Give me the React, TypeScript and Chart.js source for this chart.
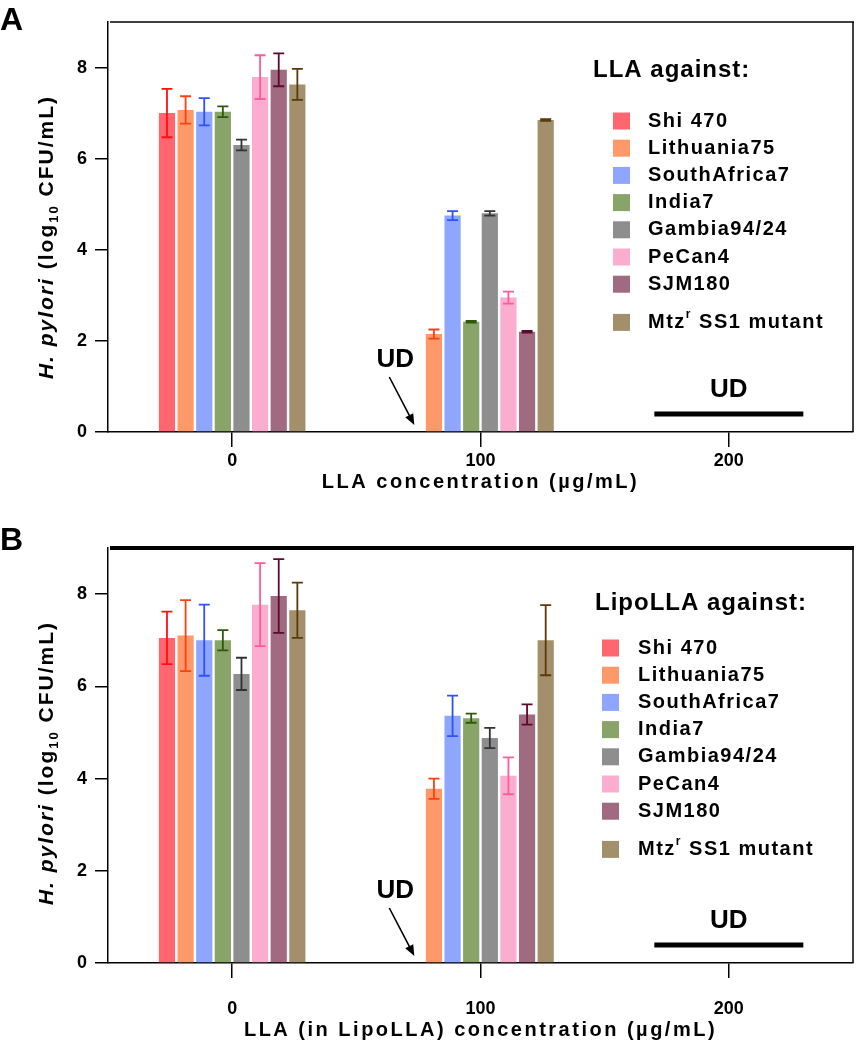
import React, { useEffect, useRef } from 'react';
import { Chart, registerables } from 'chart.js';

Chart.register(...registerables);

const FONT = "'Liberation Sans', Arial, Helvetica, sans-serif";

const categories = ['0', '100', '200'];
const strains = ['Shi 470', 'Lithuania75', 'SouthAfrica7', 'India7', 'Gambia94/24', 'PeCan4', 'SJM180', 'Mtzʳ SS1 mutant'];
const barColors = ['#ff6670', '#ff996a', '#8fa6ff', '#88a468', '#8e8e8e', '#fbadcf', '#a06a80', '#a38f6b'];
const errColors = ['#ff1010', '#ff4010', '#3050ff', '#2d5a0a', '#333333', '#ff5c9a', '#5c0a2e', '#5a3a0a'];
const yTickValues = [0, 2, 4, 6, 8];

// Panel A: LLA (log10 CFU/mL), null = UD (undetectable)
const llaShi470 = [7.0, null, null];
const llaLithuania75 = [7.07, 2.15, null];
const llaSouthAfrica7 = [7.03, 4.75, null];
const llaIndia7 = [7.03, 2.42, null];
const llaGambia = [6.3, 4.8, null];
const llaPeCan4 = [7.79, 2.95, null];
const llaSJM180 = [7.95, 2.2, null];
const llaMtz = [7.63, 6.85, null];

const llaShi470Err = [0.53, 0, 0];
const llaLithuania75Err = [0.3, 0.1, 0];
const llaSouthAfrica7Err = [0.3, 0.1, 0];
const llaIndia7Err = [0.12, 0.02, 0];
const llaGambiaErr = [0.12, 0.05, 0];
const llaPeCan4Err = [0.48, 0.13, 0];
const llaSJM180Err = [0.36, 0.02, 0];
const llaMtzErr = [0.34, 0.02, 0];

// Panel B: LipoLLA
const lipoShi470 = [7.05, null, null];
const lipoLithuania75 = [7.1, 3.78, null];
const lipoSouthAfrica7 = [7.0, 5.36, null];
const lipoIndia7 = [7.0, 5.31, null];
const lipoGambia = [6.27, 4.88, null];
const lipoPeCan4 = [7.77, 4.06, null];
const lipoSJM180 = [7.96, 5.39, null];
const lipoMtz = [7.65, 7.0, null];

const lipoShi470Err = [0.57, 0, 0];
const lipoLithuania75Err = [0.77, 0.22, 0];
const lipoSouthAfrica7Err = [0.77, 0.44, 0];
const lipoIndia7Err = [0.22, 0.1, 0];
const lipoGambiaErr = [0.35, 0.22, 0];
const lipoPeCan4Err = [0.9, 0.4, 0];
const lipoSJM180Err = [0.8, 0.22, 0];
const lipoMtzErr = [0.6, 0.76, 0];

const llaMeans = [llaShi470, llaLithuania75, llaSouthAfrica7, llaIndia7, llaGambia, llaPeCan4, llaSJM180, llaMtz];
const llaErrors = [llaShi470Err, llaLithuania75Err, llaSouthAfrica7Err, llaIndia7Err, llaGambiaErr, llaPeCan4Err, llaSJM180Err, llaMtzErr];
const lipoMeans = [lipoShi470, lipoLithuania75, lipoSouthAfrica7, lipoIndia7, lipoGambia, lipoPeCan4, lipoSJM180, lipoMtz];
const lipoErrors = [lipoShi470Err, lipoLithuania75Err, lipoSouthAfrica7Err, lipoIndia7Err, lipoGambiaErr, lipoPeCan4Err, lipoSJM180Err, lipoMtzErr];

const CAT_PCT = 0.6;
const BAR_PCT = 0.87;

type PanelCfg = {
  letter: string;
  letterBaseline: number;
  legendTitle: string;
  xTitle: string;
  errors: (number | null)[][];
  topLineWidth: number;
  xTitleDY: number;
  legend: { titleDX: number; titleDY: number; boxDX: number; textDX: number; rowDY: number };
};

function drawYTitle(ctx: any, cx: number, cy: number) {
  ctx.save();
  ctx.translate(cx, cy);
  ctx.rotate(-Math.PI / 2);
  const segs = [
    { t: 'H. pylori', f: `italic bold 21px ${FONT}`, dy: 0 },
    { t: ' (log', f: `bold 21px ${FONT}`, dy: 0 },
    { t: '10', f: `bold 13px ${FONT}`, dy: 5 },
    { t: ' CFU/mL)', f: `bold 21px ${FONT}`, dy: 0 },
  ];
  ctx.letterSpacing = '2px';
  let total = 0;
  for (const s of segs) {
    ctx.font = s.f;
    total += ctx.measureText(s.t).width;
  }
  let x = -total / 2;
  ctx.fillStyle = '#000';
  ctx.textBaseline = 'alphabetic';
  ctx.textAlign = 'left';
  for (const s of segs) {
    ctx.font = s.f;
    ctx.fillText(s.t, x, s.dy);
    x += ctx.measureText(s.t).width;
  }
  ctx.restore();
}

function drawLegend(ctx: any, area: any, cfg: PanelCfg) {
  const L = cfg.legend;
  ctx.save();
  ctx.fillStyle = '#000';
  ctx.textAlign = 'left';
  ctx.textBaseline = 'alphabetic';
  ctx.font = `bold 24px ${FONT}`;
  ctx.letterSpacing = '1px';
  ctx.fillText(cfg.legendTitle, area.right + L.titleDX, area.top + L.titleDY);
  ctx.letterSpacing = '1.5px';
  ctx.textBaseline = 'middle';
  strains.forEach((s, i) => {
    const cy = area.top + L.rowDY + i * 27.2 + (i === 7 ? 11 : 0);
    ctx.fillStyle = barColors[i];
    ctx.fillRect(area.right + L.boxDX, cy - 8.5, 17, 17);
    ctx.fillStyle = '#000';
    const tx = area.right + L.textDX;
    ctx.font = `bold 20px ${FONT}`;
    if (s.includes('ʳ')) {
      const [a, b] = s.split('ʳ');
      ctx.fillText(a, tx, cy);
      let w = ctx.measureText(a).width;
      ctx.font = `bold 12px ${FONT}`;
      ctx.fillText('r', tx + w, cy - 8);
      w += ctx.measureText('r').width;
      ctx.font = `bold 20px ${FONT}`;
      ctx.fillText(b, tx + w, cy);
    } else {
      ctx.fillText(s, tx, cy);
    }
  });
  ctx.restore();
}

function makePlugin(cfg: PanelCfg) {
  return {
    id: 'panel' + cfg.letter,
    afterDatasetsDraw(chart: any) {
      const ctx = chart.ctx;
      const ys = chart.scales.y;
      chart.data.datasets.forEach((ds: any, i: number) => {
        const meta = chart.getDatasetMeta(i);
        meta.data.forEach((el: any, j: number) => {
          const v = ds.data[j];
          if (v == null) return;
          const e = (cfg.errors[i][j] as number) || 0;
          const yt = ys.getPixelForValue(v + e);
          const yb = ys.getPixelForValue(v - e);
          ctx.save();
          ctx.strokeStyle = errColors[i];
          ctx.lineWidth = 1.8;
          ctx.beginPath();
          ctx.moveTo(el.x, yt);
          ctx.lineTo(el.x, yb);
          ctx.moveTo(el.x - 5.5, yt);
          ctx.lineTo(el.x + 5.5, yt);
          ctx.moveTo(el.x - 5.5, yb);
          ctx.lineTo(el.x + 5.5, yb);
          ctx.stroke();
          ctx.restore();
        });
      });
    },
    afterDraw(chart: any) {
      const ctx = chart.ctx;
      const area = chart.chartArea;
      const xs = chart.scales.x;
      const ys = chart.scales.y;
      const zeroY = ys.getPixelForValue(0);

      // frame: top and right lines
      ctx.save();
      ctx.strokeStyle = '#000';
      ctx.lineWidth = cfg.topLineWidth;
      ctx.beginPath();
      ctx.moveTo(area.left + 2, area.top);
      ctx.lineTo(area.right + 1, area.top);
      ctx.stroke();
      ctx.lineWidth = 1.5;
      ctx.beginPath();
      ctx.moveTo(area.right, area.top);
      ctx.lineTo(area.right, area.bottom);
      ctx.stroke();
      ctx.restore();

      // panel letter
      ctx.save();
      ctx.fillStyle = '#000';
      ctx.font = `bold 32px ${FONT}`;
      ctx.textBaseline = 'alphabetic';
      ctx.textAlign = 'left';
      ctx.fillText(cfg.letter, 0, cfg.letterBaseline);
      ctx.restore();

      // axis titles
      drawYTitle(ctx, 53, area.top + 215);
      ctx.save();
      ctx.fillStyle = '#000';
      ctx.font = `bold 20px ${FONT}`;
      ctx.letterSpacing = '2.5px';
      ctx.textAlign = 'center';
      ctx.textBaseline = 'middle';
      ctx.fillText(cfg.xTitle, (area.left + area.right) / 2, zeroY + cfg.xTitleDY);
      ctx.restore();

      // legend
      drawLegend(ctx, area, cfg);

      // UD annotations
      const c1 = xs.getPixelForValue(1);
      const c2 = xs.getPixelForValue(2);
      const catW = c2 - c1;
      const slot = (catW * CAT_PCT) / strains.length;
      const bx = c1 + (0 - 3.5) * slot;
      ctx.save();
      ctx.fillStyle = '#000';
      ctx.strokeStyle = '#000';
      ctx.font = `bold 26px ${FONT}`;
      ctx.textAlign = 'center';
      ctx.textBaseline = 'middle';
      ctx.fillText('UD', bx - 20, zeroY - 72);
      const sx = bx - 26, sy = zeroY - 55, ex = bx - 1, ey = zeroY - 7;
      const ang = Math.atan2(ey - sy, ex - sx);
      ctx.lineWidth = 1.6;
      ctx.beginPath();
      ctx.moveTo(sx, sy);
      ctx.lineTo(ex - 8 * Math.cos(ang), ey - 8 * Math.sin(ang));
      ctx.stroke();
      ctx.beginPath();
      ctx.moveTo(ex, ey);
      ctx.lineTo(ex - 11 * Math.cos(ang) + 4.5 * Math.sin(ang), ey - 11 * Math.sin(ang) - 4.5 * Math.cos(ang));
      ctx.lineTo(ex - 11 * Math.cos(ang) - 4.5 * Math.sin(ang), ey - 11 * Math.sin(ang) + 4.5 * Math.cos(ang));
      ctx.closePath();
      ctx.fill();

      const half = (catW * CAT_PCT) / 2;
      ctx.lineWidth = 5;
      ctx.beginPath();
      ctx.moveTo(c2 - half, zeroY - 18);
      ctx.lineTo(c2 + half, zeroY - 18);
      ctx.stroke();
      ctx.fillText('UD', c2, zeroY - 42);
      ctx.restore();
    },
  };
}

function buildChart(canvas: HTMLCanvasElement, means: (number | null)[][], cfg: PanelCfg, top: number, xHeight: number, tickPad: number) {
  return new Chart(canvas, {
    type: 'bar',
    data: {
      labels: categories,
      datasets: strains.map((s, i) => ({
        label: s,
        data: means[i],
        backgroundColor: barColors[i],
        borderWidth: 0,
        categoryPercentage: CAT_PCT,
        barPercentage: BAR_PCT,
      })),
    },
    options: {
      animation: false,
      responsive: false,
      devicePixelRatio: 1,
      layout: { padding: { top, right: 3, left: 0, bottom: 0 } },
      plugins: {
        legend: { display: false },
        tooltip: { enabled: false },
        title: { display: false },
      },
      scales: {
        x: {
          type: 'category',
          grid: { display: true, drawOnChartArea: false, offset: false, tickLength: 15, color: '#000', lineWidth: 1.5 },
          border: { display: true, color: '#000', width: 1.5 },
          ticks: { color: '#000', font: { family: FONT, size: 18, weight: 'bold' }, padding: tickPad, maxRotation: 0 },
          afterFit: (s: any) => { s.height = xHeight; },
        },
        y: {
          min: 0,
          max: 9,
          grid: { display: true, drawOnChartArea: false, tickLength: 13, color: '#000', lineWidth: 1.5 },
          border: { display: true, color: '#000', width: 1.5 },
          ticks: { stepSize: 2, color: '#000', font: { family: FONT, size: 18, weight: 'bold' }, padding: 8 },
          afterBuildTicks: (s: any) => { s.ticks = yTickValues.map((v) => ({ value: v })); },
          afterFit: (s: any) => { s.width = 108; },
        },
      },
    } as any,
    plugins: [makePlugin(cfg)],
  });
}

const cfgA: PanelCfg = {
  letter: 'A',
  letterBaseline: 30,
  legendTitle: 'LLA against:',
  xTitle: 'LLA concentration (µg/mL)',
  errors: llaErrors,
  topLineWidth: 1.5,
  xTitleDY: 50,
  legend: { titleDX: -260, titleDY: 55, boxDX: -240, textDX: -205, rowDY: 99 },
};

const cfgB: PanelCfg = {
  letter: 'B',
  letterBaseline: 45,
  legendTitle: 'LipoLLA against:',
  xTitle: 'LLA (in LipoLLA) concentration (µg/mL)',
  errors: lipoErrors,
  topLineWidth: 4,
  xTitleDY: 67,
  legend: { titleDX: -258, titleDY: 62, boxDX: -251, textDX: -215, rowDY: 100 },
};

export default function App() {
  const refA = useRef<HTMLCanvasElement>(null);
  const refB = useRef<HTMLCanvasElement>(null);

  useEffect(() => {
    const a = buildChart(refA.current!, llaMeans, cfgA, 22, 73, 3);
    const b = buildChart(refB.current!, lipoMeans, cfgB, 43, 87, 20);
    return () => {
      a.destroy();
      b.destroy();
    };
  }, []);

  return (
    <div style={{ position: 'absolute', left: 0, top: 0, width: 856, height: 1050, background: '#fff' }}>
      <canvas ref={refA} width={856} height={505} style={{ position: 'absolute', left: 0, top: 0, width: 856, height: 505 }} />
      <canvas ref={refB} width={856} height={545} style={{ position: 'absolute', left: 0, top: 505, width: 856, height: 545 }} />
    </div>
  );
}
